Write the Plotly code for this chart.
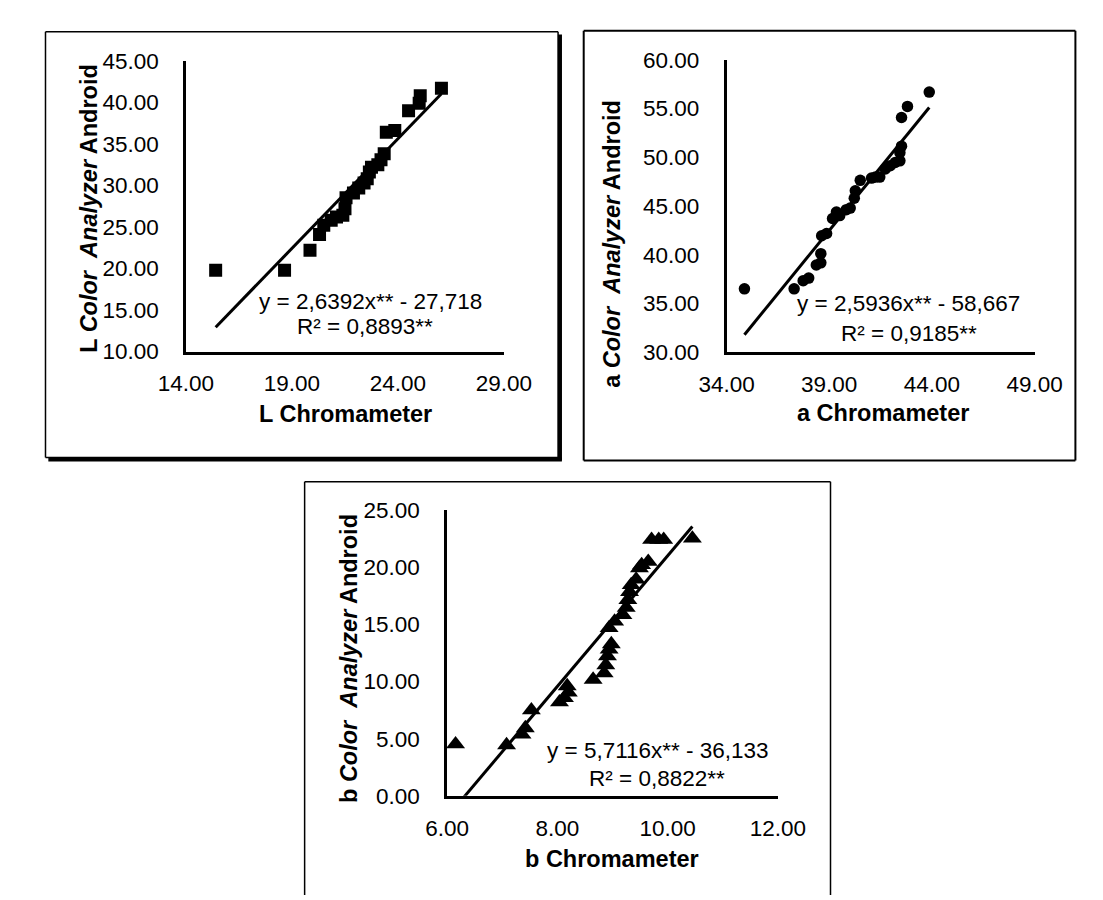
import plotly.graph_objects as go

W, H = 1103, 900

# ---------------- data ----------------
L_chroma = [15.40, 18.65, 19.85, 20.30, 20.50, 20.85, 21.10, 21.40, 21.50, 21.55,
            21.90, 22.15, 22.40, 22.55, 22.65, 22.75, 23.05, 23.20, 23.35, 23.45,
            23.85, 24.50, 25.00, 25.05, 26.05]
L_android = [19.80, 19.80, 22.20, 24.10, 25.20, 25.80, 26.20, 26.40, 27.20, 28.50,
             29.10, 29.70, 30.30, 30.80, 31.60, 32.20, 32.50, 33.10, 33.80, 36.40,
             36.60, 39.00, 39.90, 40.80, 41.70]

a_chroma = [34.87, 37.29, 37.73, 38.00, 38.37, 38.59, 38.59, 38.63, 38.87, 39.16,
            39.35, 39.51, 39.83, 40.02, 40.22, 40.27, 40.51, 41.06, 41.25, 41.46,
            41.73, 41.97, 42.21, 42.44, 42.44, 42.52, 42.52, 42.81, 43.87]
a_android = [36.49, 36.49, 37.32, 37.59, 38.93, 39.16, 40.10, 41.94, 42.17, 43.71,
             44.38, 44.01, 44.62, 44.78, 45.79, 46.56, 47.63, 47.86, 47.96, 47.96,
             48.80, 49.13, 49.46, 49.63, 50.47, 51.14, 54.08, 55.22, 56.69]

b_chroma = [6.155, 7.08, 7.36, 7.42, 7.53, 8.04, 8.13, 8.20, 8.18, 8.65,
            8.85, 8.88, 8.91, 8.94, 8.98, 8.94, 9.04, 9.19, 9.25, 9.28,
            9.31, 9.34, 9.43, 9.49, 9.53, 9.65, 9.71, 9.84, 9.93, 10.45]
b_android = [4.52, 4.44, 5.37, 5.93, 7.49, 8.19, 8.56, 9.04, 9.60, 10.17,
             10.73, 11.44, 12.23, 12.80, 13.28, 14.69, 15.25, 15.82, 16.47, 17.15,
             17.85, 18.45, 18.93, 19.92, 20.20, 20.48, 22.40, 22.40, 22.40, 22.51]

# regression results printed on the chart
L_fit = (2.6392, -27.718)
a_fit = (2.5936, -58.667)
b_fit = (5.7116, -36.133)
L_eq = ["y = 2,6392x** - 27,718", "R² = 0,8893**"]
a_eq = ["y = 2,5936x** - 58,667", "R² = 0,9185**"]
b_eq = ["y = 5,7116x** - 36,133", "R² = 0,8822**"]

FONT = "Liberation Sans, Arial, sans-serif"
TICK = 22.5
TITLE = 23.5


def px(x):
    return x / W


def py(y):
    return 1 - y / H


fig = go.Figure()

panels = [
    dict(xs=L_chroma, ys=L_android, fit=L_fit, sym="square", size=13,
         xa="x", ya="y", xr=[14, 29], yr=[10, 45], xd=5, yd=5),
    dict(xs=a_chroma, ys=a_android, fit=a_fit, sym="circle", size=11.5,
         xa="x2", ya="y2", xr=[34, 49], yr=[30, 60], xd=5, yd=5),
    dict(xs=b_chroma, ys=b_android, fit=b_fit, sym="triangle-up", size=16.5,
         xa="x3", ya="y3", xr=[6, 12], yr=[0, 25], xd=2, yd=5),
]

for p in panels:
    fig.add_trace(go.Scatter(x=p["xs"], y=p["ys"], mode="markers", xaxis=p["xa"], yaxis=p["ya"],
                             marker=dict(symbol=p["sym"], size=p["size"], color="black",
                                         line=dict(width=0)),
                             showlegend=False, hoverinfo="skip"))
    m, c = p["fit"]
    x0, x1 = min(p["xs"]), max(p["xs"])
    fig.add_trace(go.Scatter(x=[x0, x1], y=[m * x0 + c, m * x1 + c], mode="lines",
                             xaxis=p["xa"], yaxis=p["ya"],
                             line=dict(color="black", width=3),
                             showlegend=False, hoverinfo="skip"))

# plot-area positions in pixels (left, right, top, bottom)
areas = {
    "1": (158, 493, 42, 341),
    "2": (727.5, 1052, 41, 341.5),
    "3": (433, 781.5, 504, 798),
}

layout = dict(
    width=W, height=H, autosize=False,
    margin=dict(l=0, r=0, t=0, b=0),
    paper_bgcolor="white", plot_bgcolor="white",
    font=dict(family=FONT, size=TICK, color="black"),
    showlegend=False,
)

for i, p in enumerate(panels):
    k = str(i + 1)
    l, r, t, b = areas[k]
    xkey = "xaxis" if k == "1" else "xaxis" + k
    ykey = "yaxis" if k == "1" else "yaxis" + k
    layout[xkey] = dict(domain=[px(l), px(r)], range=p["xr"], anchor=p["ya"],
                        tick0=p["xr"][0], dtick=p["xd"], tickformat=".2f",
                        showline=True, linecolor="black", linewidth=2.5,
                        showgrid=False, zeroline=False, ticks="",
                        ticklabelstandoff=10,
                        tickfont=dict(family=FONT, size=TICK, color="black"))
    layout[ykey] = dict(domain=[py(b), py(t)], range=p["yr"], anchor=p["xa"],
                        tick0=p["yr"][0], dtick=p["yd"], tickformat=".2f",
                        showline=True, linecolor="black", linewidth=2.5,
                        showgrid=False, zeroline=False, ticks="",
                        ticklabelstandoff=20,
                        tickfont=dict(family=FONT, size=TICK, color="black"))

fig.update_layout(**layout)

annotations = []


def text(x, y, s, size=TITLE, angle=0):
    annotations.append(dict(x=px(x), y=py(y), xref="paper", yref="paper", text=s,
                            showarrow=False, textangle=angle, xanchor="center", yanchor="middle",
                            font=dict(family=FONT, size=size, color="black")))


# axis titles
text(326, 405, "<b>L Chromameter</b>")
text(892, 404, "<b>a Chromameter</b>")
text(607, 863, "<b>b Chromameter</b>")
sp = "\u00a0"
text(55, 194, "<b>L <i>Color</i>" + sp + sp + "<i>Analyzer</i> Android</b>", angle=-90)
text(606, 230, "<b>a <i>Color</i>" + sp + sp + "<i>Analyzer</i> Android</b>", angle=-90)
text(330, 657, "<b>b <i>Color</i>" + sp + sp + "<i>Analyzer</i> Android</b>", angle=-90)

# trendline labels
text(352, 290, L_eq[0], size=TICK)
text(347, 315, L_eq[1], size=TICK)
text(919, 292, a_eq[0], size=TICK)
text(920, 322, a_eq[1], size=TICK)
text(655, 751, b_eq[0], size=TICK)
text(654, 780, b_eq[1], size=TICK)

fig.update_layout(annotations=annotations)

# frames around each chart
shapes = []


def seg(x0, y0, x1, y1, w):
    shapes.append(dict(type="line", xref="paper", yref="paper",
                       x0=px(x0), y0=py(y0), x1=px(x1), y1=py(y1),
                       line=dict(color="black", width=w)))


# panel 1 (with heavier right / bottom edge)
seg(10, 12, 550, 12, 1.5)
seg(10, 12, 10, 450, 1.5)
seg(10, 450, 550, 450, 1.5)
seg(550, 12, 550, 450, 1.5)
seg(552, 15, 552, 453, 4)
seg(13, 452, 554, 452, 4)
# panel 2
seg(577, 11, 1095, 11, 2)
seg(577, 11, 577, 453, 2)
seg(577, 453, 1095, 453, 2)
seg(1095, 11, 1095, 453, 2)
# panel 3 (bottom cut off)
seg(283, 475, 837, 475, 1.5)
seg(283, 475, 283, 900, 1.5)
seg(837, 475, 837, 900, 1.5)

fig.update_layout(shapes=shapes)

fig.write_html("out.html")
